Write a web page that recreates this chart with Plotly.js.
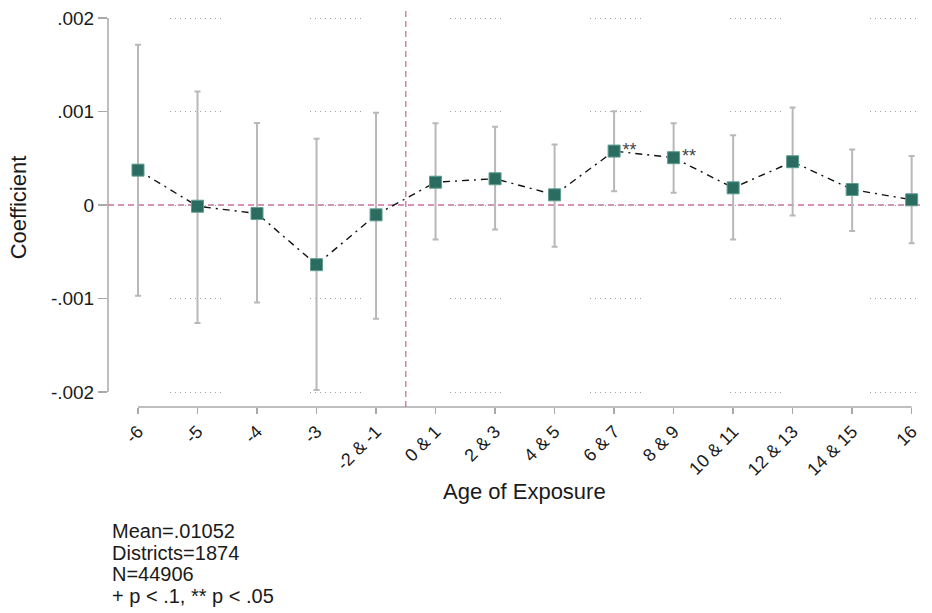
<!DOCTYPE html>
<html>
<head>
<meta charset="utf-8">
<script src="https://cdn.plot.ly/plotly-3.0.1.min.js"></script>
<style>html,body{margin:0;padding:0;background:#fff;}#chart{width:932px;height:613px;}</style>
</head>
<body>
<div id="chart"></div>
<script>
// Age-of-exposure categories
const categories = ["-6", "-5", "-4", "-3", "-2 & -1", "0 & 1", "2 & 3", "4 & 5", "6 & 7", "8 & 9", "10 & 11", "12 & 13", "14 & 15", "16"];
// Point estimates
const coef = [0.000373, -0.000013, -0.000091, -0.000638, -0.000105, 0.000244, 0.000281, 0.000109, 0.000577, 0.000506, 0.000184, 0.000463, 0.000166, 0.000056];
// Confidence interval bounds
const ciHigh = [0.001713, 0.001213, 0.000877, 0.000710, 0.000988, 0.000874, 0.000838, 0.000648, 0.001002, 0.000874, 0.000745, 0.001042, 0.000595, 0.000523];
const ciLow = [-0.000970, -0.001263, -0.001042, -0.001977, -0.001216, -0.000370, -0.000263, -0.000445, 0.000148, 0.000131, -0.000370, -0.000113, -0.000277, -0.000409];
// Significance stars
const stars = ["", "", "", "", "", "", "", "", "**", "**", "", "", "", ""];
// Y tick labels
const yTickVals = [-0.002, -0.001, 0, 0.001, 0.002];
const yTickText = ["-.002", "-.001", "0", ".001", ".002"];
// Notes
const noteLines = ["Mean=.01052", "Districts=1874", "N=44906", "+ p < .1, ** p < .05"];

const FONT = "Arial, 'Liberation Sans', sans-serif";
const TEXTC = "#1a1a1a";
const AXC = "#a9a9a9";
const REFC = "#cf6fa0";

let dots = ["0px", "62px"];
for (let i = 0; i < 10; i++) { dots.push("1px", "4px"); }
dots.push("1px", "27px");
const gridDash = dots.join(",");

const errPlus = ciHigh.map((h, i) => h - coef[i]);
const errMinus = ciLow.map((l, i) => coef[i] - l);

const traces = [
  {
    type: "scatter", mode: "lines+markers",
    x: categories, y: coef,
    line: {color: "#111", width: 1.4, dash: "7px,5px,2px,5px"},
    marker: {symbol: "square", size: 12, color: "#2a6c60", line: {color: "#5f9c90", width: 1}},
    error_y: {type: "data", symmetric: false, array: errPlus, arrayminus: errMinus,
              color: "#b8b8b8", thickness: 2, width: 3},
    hoverinfo: "skip", showlegend: false, cliponaxis: false
  },
  {
    type: "scatter", mode: "markers+text",
    x: categories, y: coef, text: stars,
    marker: {size: 12, opacity: 0},
    textposition: "middle right",
    textfont: {family: FONT, size: 18, color: "#444"},
    hoverinfo: "skip", showlegend: false, cliponaxis: false
  }
];

const noteAnns = noteLines.map((t, i) => ({
  text: t, xref: "paper", yref: "paper", x: 0, y: 0,
  yshift: -(124 + i * 21.7), xshift: 2,
  xanchor: "left", yanchor: "middle", align: "left", showarrow: false,
  font: {family: FONT, size: 20, color: TEXTC}
}));

const layout = {
  width: 932, height: 613,
  margin: {l: 108, r: 12, t: 8, b: 206},
  paper_bgcolor: "#fff", plot_bgcolor: "#fff",
  font: {family: FONT, color: TEXTC},
  showlegend: false,
  xaxis: {
    type: "category",
    range: [-0.504, 13.14],
    tickvals: categories, ticktext: categories,
    tickangle: -45,
    tickfont: {family: FONT, size: 18, color: TEXTC},
    ticks: "outside", ticklen: 6, tickwidth: 1.5, tickcolor: AXC,
    showline: false, showgrid: false, zeroline: false, fixedrange: true
  },
  yaxis: {
    range: [-0.00216, 0.002107],
    tickvals: yTickVals, ticktext: yTickText,
    tickfont: {family: FONT, size: 19, color: TEXTC},
    ticks: "outside", ticklen: 9, tickwidth: 1.5, tickcolor: AXC,
    showline: false, zeroline: false,
    showgrid: true, gridcolor: "#a0a0a0", gridwidth: 1, griddash: gridDash,
    title: {text: "Coefficient", font: {family: FONT, size: 22, color: TEXTC}, standoff: 18},
    fixedrange: true
  },
  shapes: [
    {type: "line", xref: "paper", yref: "y", x0: 0, x1: 0, y0: -0.002, y1: 0.002,
     line: {color: AXC, width: 1.5}, layer: "below"},
    {type: "line", xref: "x", yref: "paper", x0: 0, x1: 13, y0: 0, y1: 0,
     line: {color: AXC, width: 1.5}, layer: "below"},
    {type: "line", xref: "paper", yref: "y", x0: 0, x1: 1, y0: 0, y1: 0,
     line: {color: REFC, width: 1.3, dash: "6px,4px"}, layer: "below"},
    {type: "line", xref: "x", yref: "paper", x0: 4.5, x1: 4.5, y0: 0, y1: 1,
     line: {color: REFC, width: 1.3, dash: "6px,4px"}, layer: "below"}
  ],
  annotations: [
    {text: "Age of Exposure", xref: "x", yref: "paper", x: 6.5, y: 0, yshift: -84,
     xanchor: "center", yanchor: "middle", showarrow: false,
     font: {family: FONT, size: 22, color: TEXTC}}
  ].concat(noteAnns)
};

Plotly.newPlot("chart", traces, layout, {displayModeBar: false, staticPlot: true});
</script>
</body>
</html>
